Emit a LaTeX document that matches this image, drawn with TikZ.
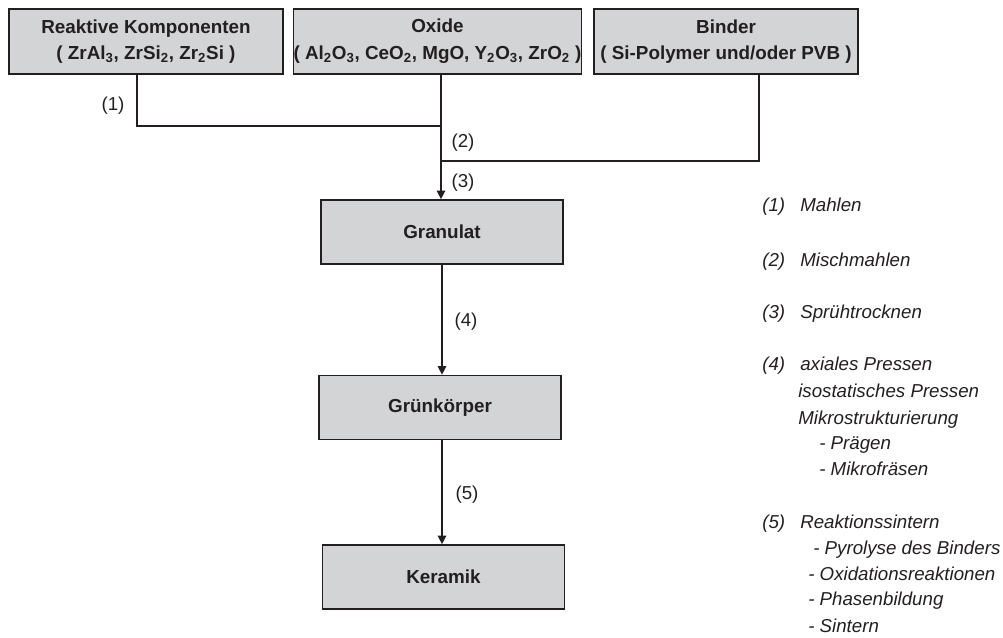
\documentclass[tikz,border=0pt]{standalone}
\usepackage{fontspec}
\setmainfont{Liberation Sans}
\usetikzlibrary{arrows.meta}
\definecolor{boxgray}{RGB}{211,212,214}
\definecolor{ink}{RGB}{35,31,32}
\newcommand{\unten}[1]{\textsubscript{#1}}
\tikzset{
	stoff/.style={draw=ink,fill=boxgray,line width=1.2pt,text=ink,font=\bfseries\fontsize{13.4}{19}\selectfont,align=center,inner sep=0pt},
	schritt/.style={text=ink,font=\fontsize{13.3}{16}\selectfont,inner sep=0pt},
	legende/.style={anchor=base west,text=ink,font=\itshape\fontsize{13.3}{16}\selectfont,inner sep=0pt},
	fluss/.style={draw=ink,line width=1pt},
	>={Triangle[length=6pt,width=6pt]}
}

\begin{document}
\begin{tikzpicture}[x=0.025cm,y=-0.025cm]
	\useasboundingbox (0,0) rectangle (1003,637);
	\node[stoff,minimum width=6.85cm,minimum height=1.625cm] (kompo) at (146,41.5){Reaktive Komponenten\\( ZrAl\unten{3}, ZrSi\unten{2}, Zr\unten{2}Si )};
	\node[stoff,minimum width=7.075cm,minimum height=1.625cm] (oxid) at (437.5,41.5){Oxide\\( Al\unten{2}O\unten{3}, CeO\unten{2}, MgO, Y\unten{2}O\unten{3}, ZrO\unten{2} )};
	\node[stoff,minimum width=6.6cm,minimum height=1.625cm] (binder) at (726,41.5){Binder\\( Si-Polymer und/oder PVB )};
	\node[stoff,minimum width=6.05cm,minimum height=1.6cm] (granulat) at (442,232){Granulat};
	\node[stoff,minimum width=6.05cm,minimum height=1.6cm] (gruen) at (440,407.5){Grünkörper};
	\node[stoff,minimum width=6.05cm,minimum height=1.6cm] (keramik) at (443.5,577){Keramik};
	\coordinate (k1) at (137,126);
	\coordinate (j1) at (441,126);
	\coordinate (b1) at (759,161);
	\coordinate (j2) at (441,161);
	\draw[fluss] (k1 |- kompo.south) -- (k1) -- (j1);
	\draw[fluss] (b1 |- binder.south) -- (b1) -- (j2);
	\draw[fluss,->] (j1 |- oxid.south) -- (j1 |- granulat.north);
	\draw[fluss,->] (granulat.south) -- (granulat.south |- gruen.north);
	\draw[fluss,->] (granulat.south |- gruen.south) -- (granulat.south |- keramik.north);
	\node[schritt] (s1) at (113,106){(1)};
	\node[schritt] (s2) at (463,143){(2)};
	\node[schritt] (s3) at (463,183){(3)};
	\node[schritt] (s4) at (466,322){(4)};
	\node[schritt] (s5) at (467,495){(5)};
	\node[legende] (n1) at (762,211){(1)};
	\node[legende] (t1) at (800,211){Mahlen};
	\node[legende] (n2) at (762,266){(2)};
	\node[legende] (t2) at (800,266){Mischmahlen};
	\node[legende] (n3) at (762,318){(3)};
	\node[legende] (t3) at (800,318){Sprühtrocknen};
	\node[legende] (n4) at (762,370){(4)};
	\node[legende] (t4) at (800,370){axiales Pressen};
	\node[legende] (t4b) at (798,397){isostatisches Pressen};
	\node[legende] (t4c) at (798,424){Mikrostrukturierung};
	\node[legende] (t4d) at (819,449){- Prägen};
	\node[legende] (t4e) at (819,475){- Mikrofräsen};
	\node[legende] (n5) at (762,528){(5)};
	\node[legende] (t5) at (800,528){Reaktionssintern};
	\node[legende] (t5b) at (813,554){- Pyrolyse des Binders};
	\node[legende] (t5c) at (808,580){- Oxidationsreaktionen};
	\node[legende] (t5d) at (808,605){- Phasenbildung};
	\node[legende] (t5e) at (808,632){- Sintern};
\end{tikzpicture}
\end{document}
